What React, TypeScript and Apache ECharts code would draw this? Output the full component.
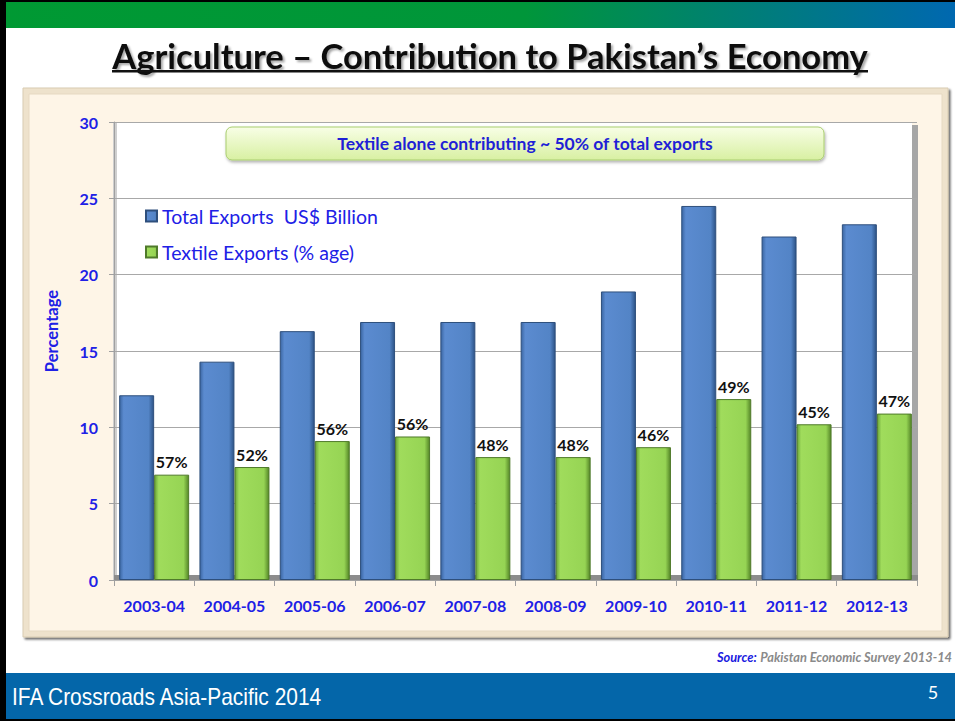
import React, { useEffect, useRef } from "react";
import * as echarts from "echarts";

const categories = ["2003-04", "2004-05", "2005-06", "2006-07", "2007-08", "2008-09", "2009-10", "2010-11", "2011-12", "2012-13"];
const totalExports = [12.1, 14.3, 16.3, 16.9, 16.9, 16.9, 18.9, 24.5, 22.5, 23.3];
const textileExports = [6.9, 7.4, 9.1, 9.4, 8.05, 8.05, 8.7, 11.85, 10.2, 10.9];
const textileShare = ["57%", "52%", "56%", "56%", "48%", "48%", "46%", "49%", "45%", "47%"];
const yTicks = { min: 0, max: 30, interval: 5 };

const BLUE_TXT = "#2020e6";
const FONT = "Lato, 'Open Sans', sans-serif";

export default function App() {
  const ref = useRef<HTMLDivElement>(null);
  useEffect(() => {
    document.body.style.margin = "0";
    const chart = echarts.init(ref.current!, null, { renderer: "svg" });
    const hGrad = (c: string[]) =>
      new echarts.graphic.LinearGradient(0, 0, 1, 0, [
        { offset: 0, color: c[0] },
        { offset: 0.12, color: c[1] },
        { offset: 0.85, color: c[2] },
        { offset: 1, color: c[3] },
      ]);
    chart.setOption({
      animation: false,
      backgroundColor: "#ffffff",
      textStyle: { fontFamily: FONT },
      grid: { left: 114, right: 38, top: 122, bottom: 141, outerBoundsMode: "none" },
      legend: {
        orient: "vertical",
        left: 140,
        top: 200,
        itemGap: 14,
        itemWidth: 11,
        itemHeight: 11,
        icon: "rect",
        textStyle: { fontSize: 19.5, color: BLUE_TXT, fontFamily: FONT, lineHeight: 22 },
        data: ["Total Exports  US$ Billion", "Textile Exports (% age)"],
      },
      xAxis: {
        type: "category",
        data: categories,
        axisLine: { show: true, lineStyle: { color: "#a0a0a0" } },
        axisTick: { show: true, length: 6, lineStyle: { color: "#a0a0a0" } },
        axisLabel: { fontSize: 16, fontWeight: "bold", color: BLUE_TXT, margin: 17, fontFamily: FONT },
      },
      yAxis: {
        type: "value",
        min: yTicks.min,
        max: yTicks.max,
        interval: yTicks.interval,
        axisLine: { show: true, lineStyle: { color: "#a0a0a0" } },
        axisTick: { show: true, length: 5, lineStyle: { color: "#a0a0a0" } },
        axisLabel: { fontSize: 16, fontWeight: "bold", color: BLUE_TXT, margin: 16, fontFamily: FONT },
        splitLine: { show: true, lineStyle: { color: "#a8a8a8", width: 1 } },
      },
      series: [
        {
          name: "Total Exports  US$ Billion",
          type: "bar",
          data: totalExports,
          barWidth: 35,
          barGap: "0%",
          itemStyle: {
            color: hGrad(["#3b66a2", "#5b8bd0", "#5384c6", "#2d5386"]),
            borderColor: "#2e4f7c",
            borderWidth: 1,
          },
        },
        {
          name: "Textile Exports (% age)",
          type: "bar",
          data: textileExports,
          barWidth: 35,
          barGap: "0%",
          itemStyle: {
            color: hGrad(["#6aa437", "#a0dc5c", "#96d454", "#558628"]),
            borderColor: "#4f7a2a",
            borderWidth: 1,
          },
          label: {
            show: true,
            position: "top",
            distance: 5,
            fontSize: 16,
            fontWeight: "bold",
            color: "#111111",
            fontFamily: FONT,
            formatter: (p: any) => textileShare[p.dataIndex],
          },
        },
      ],
      graphic: [
        // slide frame
        { type: "rect", z: -30, shape: { x: 0, y: 0, width: 955, height: 721 }, style: { fill: "#ffffff" } },
        {
          type: "rect", z: -29, shape: { x: 0, y: 0, width: 955, height: 28 },
          style: {
            fill: new echarts.graphic.LinearGradient(0, 0, 1, 0, [
              { offset: 0, color: "#009933" },
              { offset: 0.55, color: "#00963a" },
              { offset: 1, color: "#0068b0" },
            ]),
          },
        },
        { type: "rect", z: -28, shape: { x: 0, y: 0, width: 955, height: 2 }, style: { fill: "#000" } },
        { type: "rect", z: -28, shape: { x: 0, y: 0, width: 6, height: 721 }, style: { fill: "#000" } },
        { type: "rect", z: -28, shape: { x: 6, y: 673, width: 949, height: 46 }, style: { fill: "#0466a9" } },
        { type: "rect", z: -28, shape: { x: 0, y: 719, width: 955, height: 2 }, style: { fill: "#000" } },
        {
          type: "text", z: 5, x: 12, y: 697, scaleX: 0.91,
          style: { text: "IFA Crossroads Asia-Pacific 2014", fill: "#ffffff", fontSize: 23, fontFamily: "'Liberation Sans', Arial, sans-serif", verticalAlign: "middle" },
        },
        {
          type: "text", z: 5, x: 933, y: 692,
          style: { text: "5", fill: "#ffffff", fontSize: 18, fontFamily: FONT, align: "center", verticalAlign: "middle" },
        },
        // title
        {
          type: "text", z: 5, x: 490, y: 55,
          style: {
            text: "Agriculture \u2013 Contribution to Pakistan\u2019s Economy",
            fill: "#111111", fontSize: 34.5, fontWeight: "bold", fontFamily: FONT,
            align: "center", verticalAlign: "middle",
            textShadowColor: "rgba(0,0,0,0.35)", textShadowBlur: 2, textShadowOffsetX: 2, textShadowOffsetY: 2,
          },
        },
        { type: "rect", z: 5, shape: { x: 112, y: 70, width: 756, height: 2.5 }, style: { fill: "#111111" } },
        // y axis title
        {
          type: "text", z: 5, x: 52, y: 331, rotation: Math.PI / 2,
          style: { text: "Percentage", fill: BLUE_TXT, fontSize: 16.5, fontWeight: "bold", fontFamily: FONT, align: "center", verticalAlign: "middle" },
        },
        // panel
        {
          type: "rect", z: -25, shape: { x: 23, y: 88, width: 925, height: 549 },
          style: { fill: "#eee2cc", stroke: "#d9ccb2", lineWidth: 1, shadowColor: "rgba(0,0,0,0.6)", shadowOffsetX: 2, shadowOffsetY: 2, shadowBlur: 2 },
        },
        { type: "rect", z: -24, shape: { x: 29, y: 94, width: 913, height: 537 }, style: { fill: "#fef5e7", stroke: "#e6d9c2", lineWidth: 1 } },
        // back wall, side wall and floor
        { type: "rect", z: -20, shape: { x: 114, y: 122, width: 798, height: 458 }, style: { fill: "#ffffff" } },
        { type: "rect", z: -19, shape: { x: 113, y: 122, width: 4, height: 458 }, style: { fill: "#cfcfcf" } },
        { type: "rect", z: -19, shape: { x: 912, y: 125, width: 6, height: 455 }, style: { fill: "#a6a6a6" } },
        { type: "rect", z: 1, shape: { x: 114, y: 575, width: 804, height: 5 }, style: { fill: "#8c8c8c" } },
        // annotation box
        {
          type: "rect", z: 6, shape: { x: 226, y: 127, width: 598, height: 33, r: 6 },
          style: {
            fill: new echarts.graphic.LinearGradient(0, 0, 0, 1, [
              { offset: 0, color: "#f8fee6" },
              { offset: 1, color: "#d8f0a2" },
            ]),
            stroke: "#a9cd6e", lineWidth: 1,
            shadowColor: "rgba(0,0,0,0.3)", shadowBlur: 3, shadowOffsetX: 1, shadowOffsetY: 2,
          },
        },
        {
          type: "text", z: 7, x: 525, y: 143,
          style: { text: "Textile alone contributing ~ 50% of total exports", fill: "#1f1fd6", fontSize: 17.5, fontWeight: "bold", fontFamily: FONT, align: "center", verticalAlign: "middle" },
        },
        // source
        {
          type: "text", z: 5, x: 952, y: 657,
          style: {
            text: "{s|Source:} {p|Pakistan Economic Survey 2013-14}",
            align: "right", verticalAlign: "middle",
            rich: {
              s: { fontSize: 12.8, fontWeight: "bold", fontStyle: "italic", fill: "#1a1ae0", fontFamily: FONT },
              p: { fontSize: 12.8, fontWeight: "bold", fontStyle: "italic", fill: "#8a8a8a", fontFamily: FONT },
            },
          },
        },
      ],
    });
    return () => chart.dispose();
  }, []);
  return <div ref={ref} style={{ position: "absolute", left: 0, top: 0, width: 955, height: 721 }} />;
}
